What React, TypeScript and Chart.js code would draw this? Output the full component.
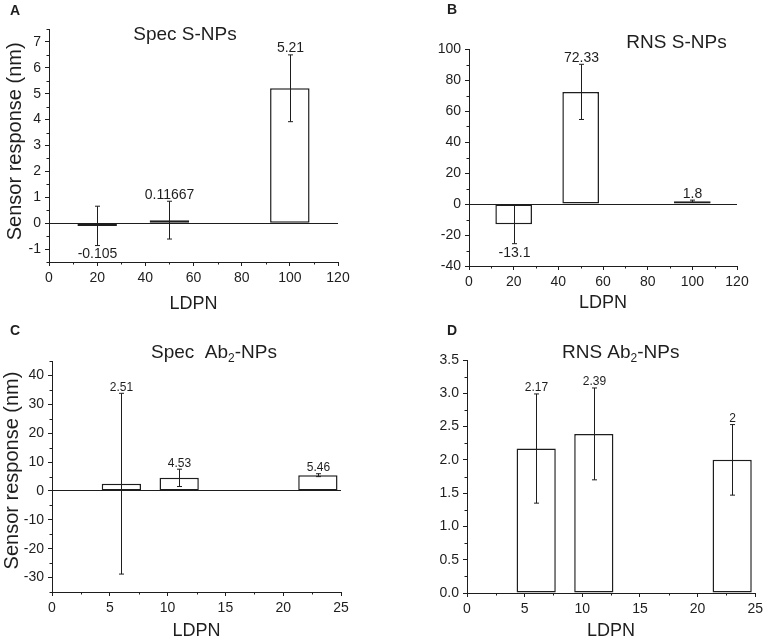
import React, { useEffect, useRef } from 'react';
import { Chart, registerables } from 'chart.js';

Chart.register(...registerables);

const FONT = "'Liberation Sans', Arial, Helvetica, sans-serif";
const INK = '#1e1e1e';

// ---- Data -----------------------------------------------------------
// Panel A – Spec S-NPs
const ldpnA = [20, 50, 100];
const responseA = [-0.105, 0.11667, 5.21];
const errorA = [0.76, 0.73, 1.29];

// Panel B – RNS S-NPs
const ldpnB = [20, 50, 100];
const responseB = [-13.1, 72.33, 1.8];
const errorB = [12.5, 17.8, 0.7];

// Panel C – Spec Ab2-NPs
const ldpnC = [6, 11, 23];
const responseC = [2.51, 4.53, 5.46];
const errorC = [31.3, 3.0, 0.5];

// Panel D – RNS Ab2-NPs
const ldpnD = [6, 11, 23];
const responseD = [2.17, 2.39, 2];
const errorD = [0.82, 0.69, 0.53];

// Ticks
const xTicksS = [0, 20, 40, 60, 80, 100, 120];
const xMinorS = [10, 30, 50, 70, 90, 110];
const xTicksAb = [0, 5, 10, 15, 20, 25];
const xMinorAb = [2.5, 7.5, 12.5, 17.5, 22.5];
const yTicksA = [-1, 0, 1, 2, 3, 4, 5, 6, 7];
const yMinorA = [-1.5, -0.5, 0.5, 1.5, 2.5, 3.5, 4.5, 5.5, 6.5, 7.5];
const yTicksB = [-40, -20, 0, 20, 40, 60, 80, 100];
const yMinorB = [-30, -10, 10, 30, 50, 70, 90];
const yTicksC = [-30, -20, -10, 0, 10, 20, 30, 40];
const yMinorC = [-35, -25, -15, -5, 5, 15, 25, 35, 45];
const yTicksD = [0, 0.5, 1, 1.5, 2, 2.5, 3, 3.5];
const yMinorD = [0.25, 0.75, 1.25, 1.75, 2.25, 2.75, 3.25];

const yAxisTitle = 'Sensor response (nm)';
const xAxisTitle = 'LDPN';

type TitlePart = { t: string; sub?: boolean };

type PanelCfg = {
  left: number; top: number; width: number; height: number;
  yAxisWidth: number; xAxisHeight: number; padTop: number; padRight: number;
  xs: number[]; ys: number[]; errs: number[];
  xMin: number; xMax: number; xTicks: number[]; xMinor: number[];
  yMin: number; yMax: number; yTicks: number[]; yMinor: number[]; yDecimals: number;
  barPct: number; labelSize: number;
  letter: string; letterX: number; letterY: number;
  title: TitlePart[]; titleX: number; titleY: number;
  yTitle?: { x: number; y: number };
  xTitlePad: number;
};

const panels: PanelCfg[] = [
  {
    left: 0, top: 0, width: 384, height: 321,
    yAxisWidth: 49, xAxisHeight: 59, padTop: 29, padRight: 46,
    xs: ldpnA, ys: responseA, errs: errorA,
    xMin: 0, xMax: 120, xTicks: xTicksS, xMinor: xMinorS,
    yMin: -1.5, yMax: 7.5, yTicks: yTicksA, yMinor: yMinorA, yDecimals: 0,
    barPct: 0.82, labelSize: 14,
    letter: 'A', letterX: 10, letterY: 15,
    title: [{ t: 'Spec S-NPs' }], titleX: 185, titleY: 39.5,
    yTitle: { x: 15.8, y: 141.3 },
    xTitlePad: 8,
  },
  {
    left: 384, top: 0, width: 383, height: 321,
    yAxisWidth: 85, xAxisHeight: 55, padTop: 49, padRight: 30,
    xs: ldpnB, ys: responseB, errs: errorB,
    xMin: 0, xMax: 120, xTicks: xTicksS, xMinor: xMinorS,
    yMin: -40, yMax: 100, yTicks: yTicksB, yMinor: yMinorB, yDecimals: 0,
    barPct: 0.82, labelSize: 14,
    letter: 'B', letterX: 447, letterY: 14,
    title: [{ t: 'RNS S-NPs' }], titleX: 676.5, titleY: 48.3,
    xTitlePad: 9,
  },
  {
    left: 0, top: 321, width: 384, height: 321,
    yAxisWidth: 52, xAxisHeight: 50, padTop: 40, padRight: 43,
    xs: ldpnC, ys: responseC, errs: errorC,
    xMin: 0, xMax: 25, xTicks: xTicksAb, xMinor: xMinorAb,
    yMin: -35, yMax: 45, yTicks: yTicksC, yMinor: yMinorC, yDecimals: 0,
    barPct: 0.68, labelSize: 12,
    letter: 'C', letterX: 10, letterY: 335,
    title: [{ t: 'Spec  Ab' }, { t: '2', sub: true }, { t: '-NPs' }], titleX: 214, titleY: 357.7,
    yTitle: { x: 12.7, y: 470.5 },
    xTitlePad: 1.5,
  },
  {
    left: 384, top: 321, width: 383, height: 321,
    yAxisWidth: 83, xAxisHeight: 49, padTop: 39, padRight: 11,
    xs: ldpnD, ys: responseD, errs: errorD,
    xMin: 0, xMax: 25, xTicks: xTicksAb, xMinor: xMinorAb,
    yMin: 0, yMax: 3.5, yTicks: yTicksD, yMinor: yMinorD, yDecimals: 1,
    barPct: 0.68, labelSize: 12,
    letter: 'D', letterX: 447, letterY: 335,
    title: [{ t: 'RNS Ab' }, { t: '2', sub: true }, { t: '-NPs' }], titleX: 620.7, titleY: 357.7,
    xTitlePad: 1.5,
  },
];

function makeDecor(cfg: PanelCfg) {
  return {
    id: 'decor' + cfg.letter,
    afterDraw(chart: any) {
      const ctx: CanvasRenderingContext2D = chart.ctx;
      const xs = chart.scales.x;
      const ys = chart.scales.y;
      const area = chart.chartArea;
      ctx.save();
      ctx.strokeStyle = INK;
      ctx.fillStyle = INK;
      ctx.lineWidth = 1;

      // minor ticks
      ctx.beginPath();
      cfg.xMinor.forEach((v) => {
        const px = Math.round(xs.getPixelForValue(v)) + 0.5;
        ctx.moveTo(px, area.bottom);
        ctx.lineTo(px, area.bottom + 2.5);
      });
      cfg.yMinor.forEach((v) => {
        const py = Math.round(ys.getPixelForValue(v)) + 0.5;
        ctx.moveTo(area.left - 2.5, py);
        ctx.lineTo(area.left, py);
      });
      ctx.stroke();

      // error bars + value labels
      const cap = 2.5;
      ctx.font = `${cfg.labelSize}px ${FONT}`;
      ctx.textAlign = 'center';
      cfg.xs.forEach((xv, i) => {
        const v = cfg.ys[i];
        const e = cfg.errs[i];
        const px = Math.round(xs.getPixelForValue(xv)) + 0.5;
        const top = ys.getPixelForValue(v + e);
        const bot = ys.getPixelForValue(v - e);
        ctx.beginPath();
        ctx.moveTo(px, top);
        ctx.lineTo(px, bot);
        ctx.moveTo(px - cap, top);
        ctx.lineTo(px + cap, top);
        ctx.moveTo(px - cap, bot);
        ctx.lineTo(px + cap, bot);
        ctx.stroke();
        const txt = String(v);
        if (v >= 0) {
          ctx.textBaseline = 'alphabetic';
          ctx.fillText(txt, px, top - 2.5);
        } else {
          ctx.textBaseline = 'top';
          ctx.fillText(txt, px, bot + 2);
        }
      });

      // panel letter
      ctx.textAlign = 'left';
      ctx.textBaseline = 'alphabetic';
      ctx.font = `bold 14px ${FONT}`;
      ctx.fillText(cfg.letter, cfg.letterX - cfg.left, cfg.letterY - cfg.top);

      // title with optional subscript
      const mainFont = `19px ${FONT}`;
      const subFont = `12px ${FONT}`;
      let total = 0;
      cfg.title.forEach((p) => {
        ctx.font = p.sub ? subFont : mainFont;
        total += ctx.measureText(p.t).width;
      });
      let cx = cfg.titleX - cfg.left - total / 2;
      const by = cfg.titleY - cfg.top;
      cfg.title.forEach((p) => {
        ctx.font = p.sub ? subFont : mainFont;
        ctx.fillText(p.t, cx, p.sub ? by + 4 : by);
        cx += ctx.measureText(p.t).width;
      });

      // y axis title
      if (cfg.yTitle) {
        ctx.save();
        ctx.translate(cfg.yTitle.x - cfg.left, cfg.yTitle.y - cfg.top);
        ctx.rotate(-Math.PI / 2);
        ctx.font = `20px ${FONT}`;
        ctx.textAlign = 'center';
        ctx.textBaseline = 'middle';
        ctx.fillText(yAxisTitle, 0, 0);
        ctx.restore();
      }
      ctx.restore();
    },
  };
}

function Panel({ cfg }: { cfg: PanelCfg }) {
  const ref = useRef<HTMLCanvasElement | null>(null);
  useEffect(() => {
    if (!ref.current) return;
    const chart = new Chart(ref.current, {
      type: 'bar',
      data: {
        datasets: [
          {
            data: cfg.xs.map((x, i) => ({ x, y: cfg.ys[i] })),
            backgroundColor: '#ffffff',
            borderColor: INK,
            borderWidth: 1.5,
            borderSkipped: false,
            barPercentage: cfg.barPct,
            categoryPercentage: 1,
          } as any,
        ],
      },
      options: {
        responsive: false,
        animation: false,
        layout: { padding: { top: cfg.padTop, right: cfg.padRight, left: 0, bottom: 0 } },
        plugins: {
          legend: { display: false },
          tooltip: { enabled: false },
          title: { display: false },
        },
        scales: {
          x: {
            type: 'linear',
            min: cfg.xMin,
            max: cfg.xMax,
            offset: false,
            afterBuildTicks: (s: any) => {
              s.ticks = cfg.xTicks.map((v) => ({ value: v }));
            },
            afterFit: (s: any) => {
              s.height = cfg.xAxisHeight;
            },
            grid: {
              offset: false,
              drawOnChartArea: false,
              drawTicks: true,
              tickLength: 4,
              tickColor: INK,
              color: INK,
            },
            border: { display: true, color: INK, width: 1 },
            ticks: {
              font: { family: FONT, size: 14 },
              color: INK,
              padding: 4,
              maxRotation: 0,
              autoSkip: false,
              callback: (v: any) => String(v),
            },
            title: {
              display: true,
              text: xAxisTitle,
              font: { family: FONT, size: 18, lineHeight: 1 },
              color: INK,
              padding: { top: 0, bottom: cfg.xTitlePad },
            },
          } as any,
          y: {
            type: 'linear',
            min: cfg.yMin,
            max: cfg.yMax,
            afterBuildTicks: (s: any) => {
              s.ticks = cfg.yTicks.map((v) => ({ value: v }));
            },
            afterFit: (s: any) => {
              s.width = cfg.yAxisWidth;
            },
            grid: {
              drawOnChartArea: true,
              drawTicks: true,
              tickLength: 4,
              tickColor: INK,
              color: (c: any) => (c.tick && c.tick.value === 0 ? INK : 'rgba(0,0,0,0)'),
            },
            border: { display: true, color: INK, width: 1 },
            ticks: {
              font: { family: FONT, size: 14 },
              color: INK,
              padding: 4,
              autoSkip: false,
              callback: (v: any) => Number(v).toFixed(cfg.yDecimals),
            },
          } as any,
        },
      },
      plugins: [makeDecor(cfg)],
    });
    return () => chart.destroy();
  }, [cfg]);
  return (
    <canvas
      ref={ref}
      width={cfg.width}
      height={cfg.height}
      style={{ position: 'absolute', left: cfg.left, top: cfg.top, width: cfg.width, height: cfg.height }}
    />
  );
}

export default function App() {
  return (
    <div style={{ position: 'absolute', left: 0, top: 0, width: 767, height: 642, background: '#ffffff', overflow: 'hidden' }}>
      {panels.map((p) => (
        <Panel key={p.letter} cfg={p} />
      ))}
    </div>
  );
}
